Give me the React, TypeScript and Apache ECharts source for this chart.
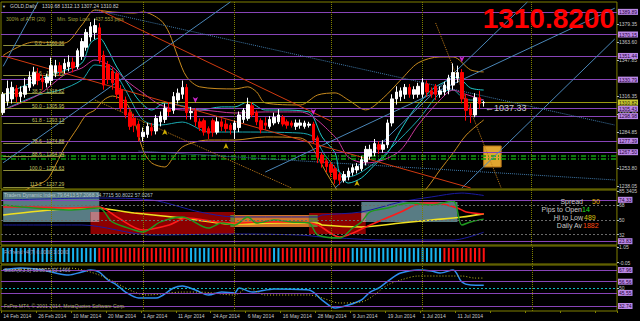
import React, { useEffect, useRef } from "react";
import * as echarts from "echarts";

const FONT = "Liberation Sans, Arial, sans-serif";
const OLIVE = "#808000";
const PURPLE = "#8844b8";
const BOX = "#bb88e6";

const tickLabels = ["14 Feb 2014", "26 Feb 2014", "10 Mar 2014", "20 Mar 2014", "1 Apr 2014", "11 Apr 2014", "24 Apr 2014", "6 May 2014", "16 May 2014", "28 May 2014", "9 Jun 2014", "19 Jun 2014", "1 Jul 2014", "11 Jul 2014"];
const barCount = 141;

// [open, close, low, high]
const candles = [
  [1302, 1318, 1300, 1320], [1312, 1323, 1308, 1330], [1314, 1324, 1310, 1329], [1323, 1316, 1311, 1326], [1316, 1320, 1311, 1325],
  [1318, 1325, 1315, 1332], [1324, 1333, 1321, 1338], [1327, 1337, 1325, 1342], [1336, 1330, 1326, 1341], [1332, 1329, 1322, 1335],
  [1328, 1333, 1324, 1336], [1330, 1343, 1326, 1350], [1337, 1343, 1333, 1348], [1343, 1338, 1334, 1346], [1340, 1345, 1336, 1349],
  [1342, 1346, 1338, 1352], [1346, 1341, 1337, 1350], [1342, 1356, 1340, 1358], [1351, 1364, 1348, 1367], [1359, 1372, 1356, 1375],
  [1368, 1377, 1364, 1381], [1372, 1378, 1366, 1384], [1376, 1348, 1345, 1380], [1352, 1326, 1322, 1356], [1344, 1331, 1327, 1347],
  [1338, 1328, 1322, 1341], [1336, 1318, 1314, 1338], [1322, 1306, 1303, 1326], [1313, 1300, 1297, 1316], [1302, 1290, 1287, 1305],
  [1297, 1291, 1285, 1301], [1292, 1281, 1277, 1295], [1281, 1285, 1277, 1289], [1283, 1290, 1280, 1293], [1289, 1286, 1282, 1293],
  [1286, 1297, 1283, 1300], [1294, 1299, 1290, 1303], [1296, 1306, 1293, 1310], [1305, 1303, 1299, 1311], [1304, 1316, 1301, 1320],
  [1313, 1319, 1310, 1323], [1318, 1324, 1314, 1330], [1324, 1302, 1296, 1327], [1302, 1303, 1296, 1307], [1303, 1294, 1290, 1306],
  [1294, 1289, 1286, 1297], [1295, 1285, 1282, 1297], [1288, 1284, 1279, 1290], [1295, 1285, 1281, 1297], [1285, 1294, 1283, 1298],
  [1294, 1290, 1286, 1297], [1292, 1288, 1285, 1296], [1291, 1287, 1283, 1293], [1287, 1293, 1279, 1295], [1289, 1300, 1285, 1303],
  [1296, 1304, 1293, 1306], [1297, 1309, 1295, 1315], [1308, 1300, 1298, 1311], [1302, 1294, 1291, 1304], [1295, 1287, 1284, 1297],
  [1293, 1291, 1287, 1298], [1290, 1296, 1288, 1299], [1293, 1298, 1291, 1302], [1294, 1300, 1292, 1305], [1298, 1292, 1290, 1300],
  [1294, 1291, 1288, 1296], [1293, 1291, 1289, 1295], [1290, 1293, 1287, 1296], [1291, 1293, 1288, 1296], [1290, 1293, 1288, 1295],
  [1291, 1292, 1289, 1294], [1292, 1278, 1275, 1294], [1280, 1263, 1258, 1282], [1265, 1258, 1254, 1267], [1260, 1255, 1250, 1262],
  [1257, 1250, 1246, 1259], [1253, 1244, 1240, 1256], [1248, 1243, 1239, 1250], [1243, 1248, 1241, 1251], [1246, 1251, 1243, 1254],
  [1250, 1254, 1247, 1257], [1252, 1255, 1249, 1258], [1253, 1261, 1251, 1264], [1259, 1270, 1256, 1273], [1264, 1270, 1261, 1274],
  [1267, 1275, 1264, 1279], [1274, 1270, 1266, 1277], [1270, 1274, 1267, 1278], [1274, 1293, 1271, 1296], [1293, 1314, 1290, 1318],
  [1314, 1320, 1309, 1325], [1316, 1321, 1312, 1324], [1318, 1324, 1314, 1327], [1324, 1318, 1315, 1327], [1318, 1322, 1314, 1325],
  [1318, 1325, 1315, 1328], [1318, 1328, 1315, 1332], [1327, 1320, 1316, 1330], [1321, 1318, 1315, 1324], [1325, 1318, 1313, 1327],
  [1318, 1321, 1315, 1325], [1320, 1326, 1317, 1329], [1322, 1332, 1318, 1335], [1326, 1337, 1322, 1345], [1332, 1337, 1328, 1343],
  [1337, 1314, 1310, 1340], [1314, 1304, 1295, 1318], [1305, 1300, 1293, 1310], [1300, 1315, 1298, 1319], [1315, 1310, 1305, 1321],
  [1310.68, 1310.82, 1307.24, 1312.13],
];

const priceTicks = [1379.35, 1363.6, 1347.85, 1316.35, 1300.6, 1284.85, 1253.8, 1238.05];
const priceLevels = [1389.89, 1370.15, 1351.44, 1330.79, 1305.43, 1298.98, 1277.39, 1267.5];
const lastPrice = 1310.82;
const greenLevels = [1264.2, 1262.2];
const fibLevels: [string, number][] = [["0.0", 1360.36], ["23.6", 1334.7], ["38.2", 1318.82], ["50.0", 1305.95], ["61.8", 1293.13], ["78.6", 1274.88], ["88.6", 1264.04], ["100.0", 1251.63], ["113.2", 1237.29]];
const monthStarts = [11, 32, 53, 75, 96, 121];

const blueLines = [[[0, 1258.3], [52, 1398.5]], [[0, 1342.4], [8, 1398.5]], [[60, 1250.2], [140, 1393.1]], [[76, 1236.3], [120, 1398.5]], [[105, 1236.3], [140, 1366.2]]];
const blueDotted = [[[21, 1391.5], [140, 1291.2]], [[31, 1268.5], [140, 1243.3]]];
const redLines = [[[22, 1391.5], [75, 1294.7]], [[0, 1351.5], [107, 1236.3]]];
const orangeDotted = [[[99, 1380.2], [114, 1236.3]], [[21, 1313.0], [66, 1236.3]]];
const orangeBox = [[110, 1272.9], [114, 1254.6]];

const upperBand = [[0, 1352], [7, 1363.6], [14, 1362.7], [18, 1378.4], [21, 1391.5], [25, 1389.8], [30, 1388.9], [32, 1389.8], [36, 1382.8], [38, 1371.5], [40, 1350.6], [42, 1333.2], [45, 1324.5], [53, 1322.7], [56, 1324.5], [58, 1320.1], [60, 1310.5], [68, 1308.7], [72, 1317.4], [76, 1319.2], [79, 1313.1], [83, 1304.4], [87, 1314.8], [91, 1330.5], [95, 1345.4], [100, 1350.6], [103, 1350.6], [107, 1339.3], [110, 1337.5]];
const lowerBand = [[0, 1225], [3, 1230], [6, 1236.3], [10, 1243.3], [12, 1256.3], [14, 1271.2], [17, 1288.6], [19, 1300], [21, 1304.3], [23, 1313], [25, 1316.5], [28, 1311.3], [30, 1295.6], [32, 1269.4], [34, 1258.1], [37, 1254.6], [39, 1263.3], [41, 1272], [44, 1276.4], [47, 1278.1], [53, 1278.1], [60, 1280.8], [68, 1279.9], [70, 1275.5], [72, 1263.3], [74, 1249.4], [76, 1237.1], [78, 1225], [86, 1225], [95, 1230], [97, 1236.3], [100, 1252], [103, 1266.8], [106, 1282.5], [110, 1295.6]];
const cyanUpper = [[0, 1317.4], [8, 1330.5], [13, 1337.5], [18, 1345.3], [20, 1362.7], [22, 1367.1], [24, 1356.6], [26, 1341.8], [29, 1324.4], [31, 1313], [34, 1304.3], [37, 1310.4], [42, 1307], [45, 1304.3], [50, 1307], [53, 1307], [56, 1311.3], [60, 1304.3], [64, 1304.3], [70, 1302.6], [71, 1298.2], [73, 1280.8], [76, 1266.8], [77, 1249.4], [79, 1240.6], [82, 1245], [85, 1256.3], [88, 1266.8], [91, 1286.9], [94, 1304.3], [98, 1321.7], [101, 1328.7], [104, 1333.1], [105, 1330.5], [107, 1323.5], [110, 1321.7]];
const cyanLower = [[0, 1304.3], [8, 1317.4], [13, 1321.7], [18, 1330.5], [21, 1343.6], [25, 1339.2], [28, 1321.7], [32, 1295.6], [36, 1291.2], [41, 1293.8], [47, 1285.1], [53, 1285.1], [68, 1284.2], [71, 1280.8], [74, 1263.3], [79, 1245.9], [86, 1260.7], [89, 1272], [95, 1295.6], [100, 1319.1], [103, 1321.7], [105, 1315.6], [107, 1313], [110, 1313]];
const maLine = [[0, 1304.3], [8, 1317.4], [14, 1334.9], [18, 1340.9], [21, 1347.9], [25, 1341.8], [28, 1330.5], [32, 1319.1], [36, 1308.7], [41, 1304.3], [45, 1304.3], [53, 1301.7], [60, 1302.6], [68, 1302.6], [76, 1280.8], [79, 1263.3], [83, 1258.1], [87, 1260.7], [91, 1269.4], [95, 1291.2], [100, 1313], [103, 1321.7], [105, 1319.1], [110, 1313]];
const buyArrows = [[37, 1287.7], [51, 1275.5], [81, 1243.3]];
const sellArrows = [[44, 1310.4], [71, 1300], [105, 1346]];

const tdiUpper = [[0, 74.1], [22, 76.5], [34, 74.1], [45, 59.5], [53, 53.4], [60, 53.4], [72, 53.4], [73, 55.8], [82, 59.5], [91, 71.7], [98, 77.8], [105, 82.6], [110, 79.6]];
const tdiLower = [[0, 43.6], [18, 43.6], [34, 31.4], [53, 32.6], [68, 31.4], [73, 29], [88, 25.3], [103, 25.3], [110, 34.8]];
const tdiBase = [[0, 55.8], [11, 61.9], [21, 64.3], [30, 58.2], [41, 52.1], [53, 44.8], [64, 46], [72, 46], [73, 43.6], [82, 41.2], [91, 46], [98, 49.7], [105, 53.4], [110, 57.2]];
const tdiSignal = [[0, 65.6], [7, 65.6], [15, 64.3], [22, 65.6], [26, 53.4], [32, 37.5], [38, 43.6], [42, 52.1], [49, 47.3], [53, 46], [61, 47.3], [68, 47.3], [72, 43.6], [77, 29], [84, 43.6], [91, 59.5], [96, 70.4], [99, 70.4], [104, 64.3], [106, 59.5], [110, 57]];
const tdiRsi = [[0, 68], [7, 64.3], [15, 61.9], [22, 64.3], [25, 47.3], [30, 37.5], [32, 35.1], [36, 47.3], [41, 53.4], [47, 39.9], [50, 46], [53, 43.6], [56, 53.4], [58, 46], [62, 49.7], [66, 47.3], [70, 46], [72, 31.4], [77, 27.7], [80, 39.9], [82, 47.3], [84, 59.5], [88, 64.3], [93, 70.4], [98, 68], [103, 72.9], [105, 43.6], [107, 47.3], [110, 50.8]];
const tdiZones = [
  { kind: "range", from: -1, to: 22, top: 83.9, bottom: 47.3 },
  { kind: "bear", from: 20, to: 53, top: 59.5, bottom: 32.6 },
  { kind: "mix", from: 20, to: 22, top: 59.5, bottom: 47.3 },
  { kind: "flat", from: 53, to: 70, top: 55.8, bottom: 41.2 },
  { kind: "edge", from: 52, to: 53, top: 55.8, bottom: 41.2 },
  { kind: "bear", from: 70, to: 83, top: 58.2, bottom: 32.6 },
  { kind: "edge", from: 70, to: 72, top: 55.8, bottom: 41.2 },
  { kind: "range", from: 82, to: 104, top: 71.7, bottom: 47.3 },
  { kind: "mix", from: 82, to: 83, top: 58.2, bottom: 47.3 },
];
const tdiLevels = [74.33, 23.83];
const tdiDashed = [68, 50, 32];

const trendBars = "BBBBBBBBBBBBBBBBBBBBBB" + "RRRRRRRRRRRRRRRRRRRRR" + "BBBBB" + "RRRRRRRRRRRRRR" + "BB" + "RRRRRRRRRRRRRRRR" + "BBBBBBBBBBBBBBBBBBBBB" + "RRRRRRRRRR";

const stochMain = [[0, 68], [4, 69.9], [9, 68], [12, 65], [15, 63.1], [18, 66], [20, 68], [22, 66], [24, 58.2], [26, 53.3], [28, 46.4], [31, 40.6], [35, 40.6], [39, 50.4], [41, 52.3], [44, 48.4], [47, 43.5], [50, 46.4], [53, 45.5], [54, 50.4], [57, 46.4], [62, 49.4], [70, 48.4], [73, 38.6], [76, 30.8], [79, 33.7], [82, 38.6], [84, 46.4], [86, 50.4], [89, 60.1], [91, 65], [95, 68], [98, 67], [100, 65], [103, 68], [105, 56.2], [107, 53.3], [110, 53.1]];
const stochSignal = [[0, 68], [15, 69.9], [22, 63.1], [30, 46.4], [33, 43.5], [38, 45.5], [41, 46.4], [45, 46.4], [53, 43.5], [56, 50.4], [60, 43.5], [70, 43.5], [73, 40.6], [77, 35.7], [82, 36.7], [88, 53.3], [91, 58.2], [95, 62.1], [103, 62.1], [105, 62.1], [108, 60.1], [110, 60.1]];
const stochLevels = [67.96, 56.56, 45.55, 32.74];

const zoneColors: Record<string, string> = { range: "#587c84", bear: "#8c0000", mix: "#b87a80", flat: "#d2742a", edge: "#6e7c34" };

function levelMarks(values: number[], color: string, bg: string) {
  return values.map((v) => ({
    yAxis: v,
    lineStyle: { color, width: 1, type: "solid" },
    label: { show: true, position: "end", distance: 1, formatter: v.toFixed(2), backgroundColor: bg, color: "#230035", fontSize: 5, fontFamily: FONT, padding: [1, 1, 0, 1] },
  }));
}
function separators() {
  return monthStarts.map((b) => ({ xAxis: b, lineStyle: { color: OLIVE, width: 1, type: "dotted" } }));
}
function segs(list: number[][][], color: string, type: string) {
  return list.map((s) => [{ coord: s[0], lineStyle: { color, width: 1, type } }, { coord: s[1] }]);
}

function buildOption() {
  const cats = Array.from({ length: barCount }, (_, i) => String(i));
  const gridDefs = [
    { top: 2, height: 187 },
    { top: 190, height: 55 },
    { top: 246, height: 18 },
    { top: 265, height: 46 },
  ];
  const grid = gridDefs.map((g) => ({ left: 1, width: 616, top: g.top, height: g.height, show: true, borderColor: OLIVE, borderWidth: 1, backgroundColor: "transparent" }));
  const xAxis = gridDefs.map((_, i) => ({
    type: "category",
    gridIndex: i,
    data: cats,
    boundaryGap: true,
    axisLine: { show: false },
    splitLine: { show: false },
    axisTick: i === 3 ? { show: true, interval: 7, length: 2, lineStyle: { color: OLIVE } } : { show: false },
    axisLabel: i === 3
      ? { show: true, interval: 7, align: "left", margin: 2, fontSize: 5, color: "#c8c8c8", fontFamily: FONT, formatter: (_v: string, idx: number) => (idx % 8 === 0 && tickLabels[idx / 8]) || "" }
      : { show: false },
  }));
  const yBase = (i: number, min: number, max: number, labels: number[], fmt: (v: number) => string) => ({
    type: "value",
    gridIndex: i,
    position: "right",
    min,
    max,
    splitLine: { show: false },
    axisLine: { show: false },
    axisTick: { show: true, length: 2, customValues: labels, lineStyle: { color: "#c0c0c0" } },
    axisLabel: { show: true, customValues: labels, margin: 2, fontSize: 5, color: "#c8c8c8", fontFamily: FONT, formatter: fmt },
  });
  const yAxis = [
    yBase(0, 1235.4, 1398.5, priceTicks, (v) => v.toFixed(2)),
    yBase(1, 19.2, 86.3, [85.3405, 68, 50, 32], (v) => String(v)),
    yBase(2, -0.14, 1.14, [1.05, -0.05], (v) => v.toFixed(2)),
    yBase(3, 27.84, 72.9, [50], (v) => String(v)),
  ];

  const fibMarks = fibLevels.map(([name, p]) => [
    { coord: [0, p], lineStyle: { color: "#8e8e3c", width: 1, type: "solid" }, label: { show: true, position: "insideEndTop", distance: 0, formatter: `${name} - ${p.toFixed(2)}`, color: "#c0c060", fontSize: 5, fontFamily: FONT } },
    { coord: [14, p] },
  ]);

  const lineS = (name: string, data: number[][], color: string, width: number, gi: number, extra: any = {}) => ({
    name, type: "line", xAxisIndex: gi, yAxisIndex: gi, data, showSymbol: false, symbol: "none", smooth: 0.3,
    lineStyle: { color, width, ...(extra.lineStyle || {}) }, silent: true, z: extra.z ?? 3, ...(extra.rest || {}),
  });

  const series: any[] = [
    {
      name: "GOLD",
      type: "candlestick",
      xAxisIndex: 0,
      yAxisIndex: 0,
      data: candles,
      barWidth: 3,
      z: 5,
      itemStyle: { color: "#ffffff", color0: "#ff0000", borderColor: "#ffffff", borderColor0: "#ff0000", borderWidth: 1 },
      markLine: {
        symbol: ["none", "none"], silent: true, label: { show: false },
        data: [
          ...levelMarks(priceLevels, PURPLE, BOX),
          { yAxis: lastPrice, lineStyle: { color: "#9a9a10", width: 1, type: "solid" }, label: { show: true, position: "end", distance: 1, formatter: lastPrice.toFixed(2), backgroundColor: "#c8c832", color: "#202000", fontSize: 5, fontFamily: FONT, padding: [1, 1, 0, 1] } },
          ...greenLevels.map((v) => ({ yAxis: v, lineStyle: { color: "#10a010", width: 1.5, type: [5, 2, 1, 2] } })),
          ...separators(),
          ...fibMarks,
          ...segs(blueLines, "#4a86b8", "solid"),
          ...segs(blueDotted, "#3f78a8", "dotted"),
          ...segs(redLines, "#d03a10", "solid"),
          ...segs(orangeDotted, "#c07a18", "dotted"),
        ],
      },
      markArea: {
        silent: true,
        itemStyle: { color: "#e0a530", borderColor: "#b87418", borderWidth: 1 },
        data: [[{ coord: orangeBox[0] }, { coord: orangeBox[1] }]],
      },
    },
    lineS("BB upper", upperBand, "#c88a1e", 1, 0),
    lineS("BB lower", lowerBand, "#c88a1e", 1, 0),
    lineS("Env upper", cyanUpper, "#20c8c8", 1, 0),
    lineS("Env lower", cyanLower, "#1aa8b0", 1, 0),
    lineS("MA", maLine, "#c8369a", 1, 0),
    { type: "scatter", xAxisIndex: 0, yAxisIndex: 0, data: buyArrows, symbol: "arrow", symbolSize: [4, 6], itemStyle: { color: "#ffd700" }, z: 6, silent: true },
    { type: "scatter", xAxisIndex: 0, yAxisIndex: 0, data: sellArrows, symbol: "arrow", symbolRotate: 180, symbolSize: [4, 6], itemStyle: { color: "#ff30ff" }, z: 6, silent: true },

    // TDI
    {
      type: "line", xAxisIndex: 1, yAxisIndex: 1, data: [], silent: true, z: 1,
      markArea: {
        silent: true,
        data: tdiZones.map((zn) => [{ coord: [zn.from, zn.top], itemStyle: { color: zoneColors[zn.kind], opacity: 1 } }, { coord: [zn.to, zn.bottom] }]),
      },
      markLine: {
        symbol: ["none", "none"], silent: true, label: { show: false },
        data: [
          ...tdiDashed.map((v) => ({ yAxis: v, lineStyle: { color: "#6a6a6a", width: 1, type: [2, 2] } })),
          ...levelMarks(tdiLevels, PURPLE, BOX),
          ...separators(),
        ],
      },
    },
    lineS("TDI upper", tdiUpper, "#1a1aa0", 1, 1),
    lineS("TDI lower", tdiLower, "#1a1aa0", 1, 1),
    lineS("TDI base", tdiBase, "#f0e020", 1.6, 1),
    lineS("TDI signal", tdiSignal, "#ff1a1a", 1.6, 1),
    lineS("TDI rsi", tdiRsi, "#1e9a1e", 1.4, 1),

    // trend bars
    {
      type: "bar", xAxisIndex: 2, yAxisIndex: 2, barWidth: 2, silent: true,
      data: trendBars.split("").map((c) => ({ value: 1, itemStyle: { color: c === "B" ? "#18b4f0" : "#ff1010" } })),
      markLine: { symbol: ["none", "none"], silent: true, label: { show: false }, data: separators() },
    },

    // stochastic
    {
      ...lineS("Stoch", stochMain, "#2e8ef0", 1.5, 3),
      markLine: {
        symbol: ["none", "none"], silent: true, label: { show: false },
        data: [
          ...levelMarks(stochLevels, PURPLE, BOX),
          { yAxis: 50, lineStyle: { color: "#10b8c0", width: 1, type: [2, 2] } },
          ...separators(),
        ],
      },
    },
    lineS("Stoch signal", stochSignal, "#c8c020", 1, 3, { lineStyle: { type: [1, 2] } }),
  ];

  const txt = (text: string, x: number, y: number, fill: string, fontSize = 5, extra: any = {}) => ({
    type: "text", x, y, silent: true, z: 100,
    style: { text, fill, fontSize, fontFamily: FONT, verticalAlign: "middle", align: "left", ...extra },
  });

  const graphic = [
    txt("▼", 2, 6, "#d0d0d0", 4),
    txt("GOLD,Daily", 10, 6, "#d0d0d0", 5),
    txt("1310.68 1312.13 1307.24 1310.82", 42, 6, "#d0d0d0", 5),
    txt("300% of ATR (20)", 6, 19, "#a4a43e", 5),
    txt("Min. Stop Loss", 57, 19, "#a4a43e", 5),
    txt("437.553 pips", 95, 19, "#a4a43e", 5),
    txt("1310.8200", 615, 18, "#ff0000", 28, { fontWeight: "bold", align: "right" }),
    txt("←1037.33", 485, 108, "#c8c8c8", 9),
    txt("Traders Dynamic Index 79.6413 57.2068 34.7715 50.8022 57.0267", 4, 195, "#b4c4cc", 5),
    txt("FxTrend v4(7) 0.0000 1.0000", 4, 252, "#9a9ab8", 5),
    txt("Stoch(8,3,3) 55.8819 53.1466", 4, 270, "#a8a8c8", 5),
    txt("FxPro MT4, © 2001-2014, MetaQuotes Software Corp.", 4, 306, "#a8a868", 5),
    txt("Spread", 583, 201, "#c8c8c8", 7, { align: "right" }),
    txt("50", 592, 201, "#e0b010", 7),
    txt("Pips to Open", 582, 209, "#c8c8c8", 7, { align: "right" }),
    txt("14", 582, 209, "#20e020", 7),
    txt("Hi to Low", 583, 217, "#c8c8c8", 7, { align: "right" }),
    txt("489", 584, 217, "#d8c010", 7),
    txt("Daily Av", 582, 225, "#c8c8c8", 7, { align: "right" }),
    txt("1882", 583, 225, "#ff4a10", 7),
  ];

  return {
    animation: false,
    backgroundColor: "#000000",
    grid,
    xAxis,
    yAxis,
    series,
    graphic,
  };
}

export default function App() {
  const ref = useRef<HTMLDivElement>(null);
  useEffect(() => {
    document.body.style.margin = "0";
    const chart = echarts.init(ref.current as HTMLDivElement, null, { renderer: "svg" });
    chart.setOption(buildOption() as any);
    return () => chart.dispose();
  }, []);
  return <div ref={ref} style={{ position: "absolute", left: 0, top: 0, width: 640, height: 321, background: "#000" }} />;
}
